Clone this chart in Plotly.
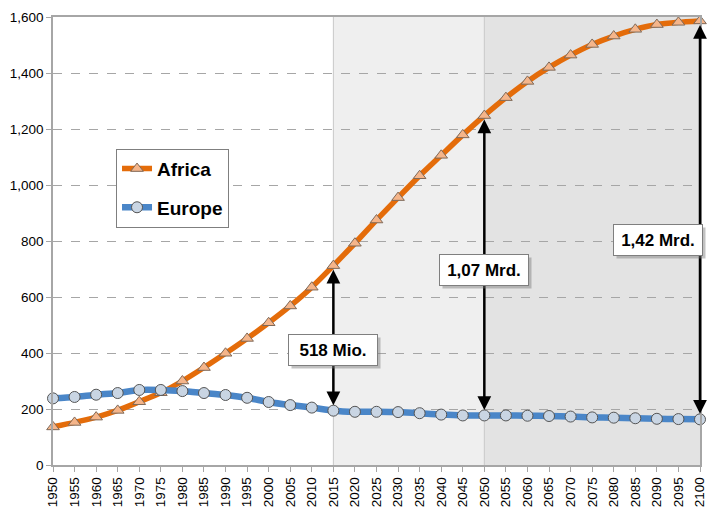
import plotly.graph_objects as go

years = list(range(1950, 2101, 5))
africa = [136, 152, 171, 195, 226, 258, 300, 348, 399, 452, 508, 568, 635, 712,
          792, 875, 955, 1033, 1106, 1179, 1248, 1312, 1370, 1420, 1464, 1502,
          1532, 1556, 1573, 1581, 1586]
europe = [238, 243, 251, 257, 268, 268, 264, 257, 250, 240, 225, 214, 205, 194,
          190, 190, 189, 185, 180, 177, 177, 177, 176, 175, 173, 170, 169, 167,
          165, 164, 163]
series_names = ["Africa", "Europe"]
y_ticks = [0, 200, 400, 600, 800, 1000, 1200, 1400, 1600]
gap_years = [2015, 2050, 2100]
gap_labels = ["518 Mio.", "1,07 Mrd.", "1,42 Mrd."]
label_values = [411, 695, 803]
label_x = [2015, 2050, 2090.3]
shade_periods = [(2015, 2050), (2050, 2100)]

FONT = "Arial, Liberation Sans, sans-serif"

fig = go.Figure()
fig.add_trace(go.Scatter(
    x=years, y=africa, name=series_names[0], mode="lines+markers",
    legendgroup="a",
    line=dict(color="#e46c0a", width=5.5, shape="spline", smoothing=0.6),
    marker=dict(symbol="triangle-up", size=11, color="#f5b58a",
                line=dict(color="#7f6a5a", width=1)),
    cliponaxis=False))
fig.add_trace(go.Scatter(
    x=years, y=europe, name=series_names[1], mode="lines+markers",
    legendgroup="b",
    line=dict(color="#4a86c8", width=6.5, shape="spline", smoothing=0.6),
    marker=dict(symbol="circle", size=11, color="#c9d5e3",
                line=dict(color="#555555", width=1)),
    cliponaxis=False))

# shaded periods
fills = ["#efefef", "#e3e3e3"]
for (a, b), c in zip(shade_periods, fills):
    fig.add_shape(type="rect", xref="x", yref="y", x0=a, x1=b, y0=0, y1=1600,
                  fillcolor=c, line_width=0, layer="below")
for a, _ in shade_periods:
    fig.add_shape(type="line", xref="x", yref="y", x0=a, x1=a, y0=0, y1=1600,
                  line=dict(color="#c8c8c8", width=1), layer="below")

# arrows + labels
for yr, lab, lv, lx in zip(gap_years, gap_labels, label_values, label_x):
    i = years.index(yr)
    fig.add_annotation(x=yr, y=africa[i], ax=yr, ay=europe[i], xref="x", yref="y",
                       axref="x", ayref="y", text="", showarrow=True,
                       arrowhead=2, arrowsize=1.1, arrowwidth=2.5,
                       arrowside="end+start", arrowcolor="#000000",
                       standoff=4, startstandoff=4)
    # shadow box
    fig.add_annotation(x=lx, y=lv, xref="x", yref="y", text=" ",
                       showarrow=False, width=80, height=22,
                       font=dict(family=FONT, size=17),
                       bgcolor="rgba(120,120,120,0.45)", borderwidth=1,
                       bordercolor="rgba(120,120,120,0.0)",
                       borderpad=4, xshift=3, yshift=-3)
    fig.add_annotation(x=lx, y=lv, xref="x", yref="y", text="<b>" + lab + "</b>",
                       showarrow=False, width=80, height=22,
                       font=dict(family=FONT, size=17, color="#000"),
                       bgcolor="#ffffff", bordercolor="#7f7f7f", borderwidth=1,
                       borderpad=4)

fig.update_layout(
    width=707, height=510,
    margin=dict(l=53, r=7, t=17, b=45),
    paper_bgcolor="#ffffff", plot_bgcolor="#ffffff",
    font=dict(family=FONT, size=13.5, color="#000"),
    showlegend=True,
    legend=dict(x=0.0974, y=0.706, xanchor="left", yanchor="top",
                bgcolor="#ffffff", bordercolor="#7f7f7f", borderwidth=1,
                font=dict(family=FONT, size=19, color="#000", weight="bold"),
                itemwidth=30, traceorder="grouped", tracegroupgap=11),
)
fig.update_xaxes(range=[1950, 2100], tickvals=years, ticktext=[str(y) for y in years],
                 tickangle=-90, showgrid=False, showline=True, linecolor="#a6a6a6",
                 linewidth=1.5, ticks="outside", ticklen=5, tickcolor="#a6a6a6",
                 mirror=True, zeroline=False, tickfont=dict(size=13.5),
                 automargin=False, ticklabeloverflow="allow")
fig.update_yaxes(range=[0, 1600], tickvals=y_ticks, tickformat=",d",
                 showgrid=True, gridcolor="#a6a6a6", griddash="dash", gridwidth=1,
                 showline=True, linecolor="#a6a6a6", linewidth=1.5, ticks="outside",
                 ticklen=5, tickcolor="#a6a6a6", zeroline=False, mirror=True,
                 tickfont=dict(size=13.5), automargin=False, ticklabeloverflow="allow")

fig.write_html("out.html", config={"displayModeBar": False},
               post_script="document.body.style.margin='0px';")
